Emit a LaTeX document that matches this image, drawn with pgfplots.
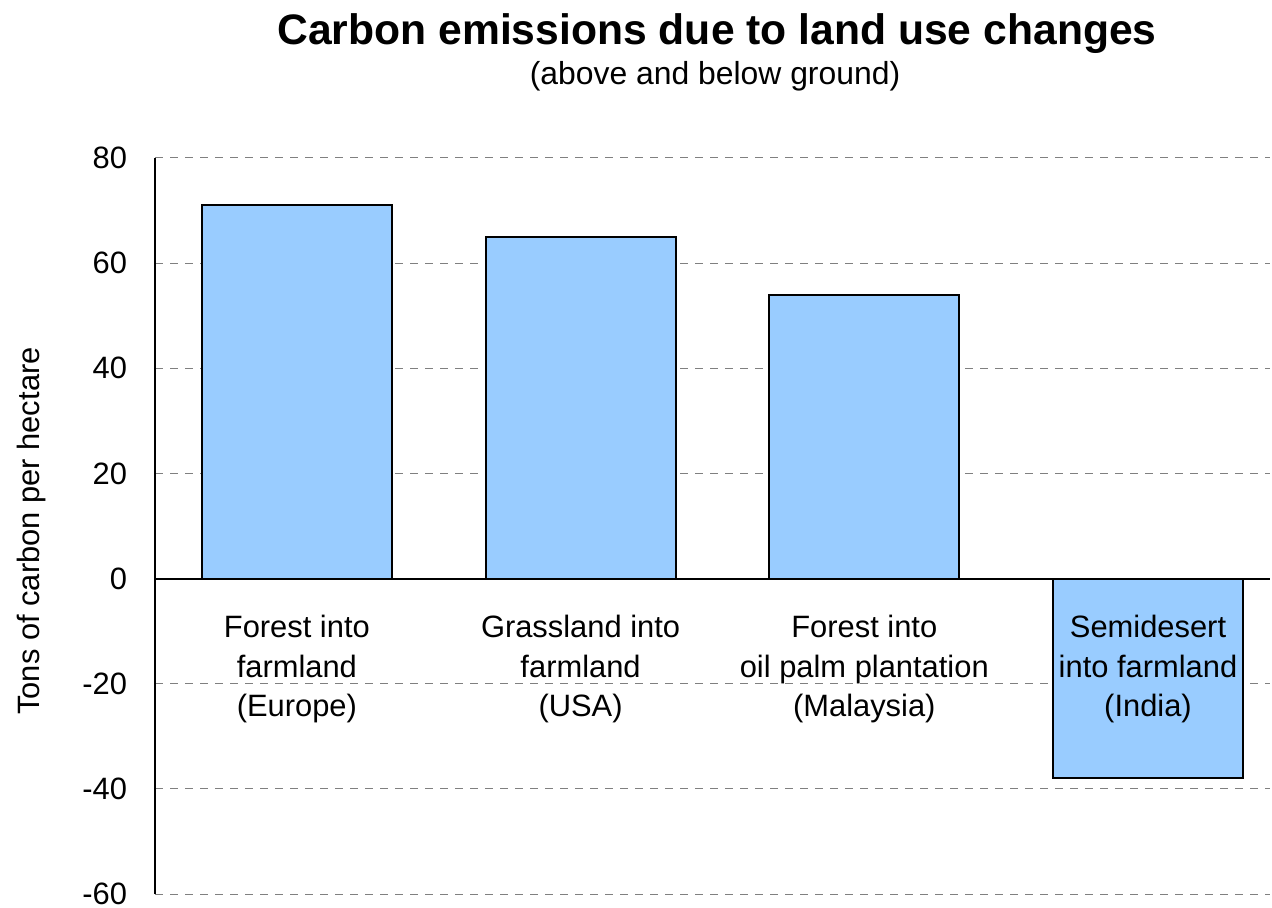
\documentclass[border=0pt]{standalone}
\usepackage{pgfplots}
\pgfplotsset{compat=1.18}
\usepackage{fontspec}
\setmainfont{Liberation Sans}

\definecolor{barblue}{HTML}{99CCFF}
\definecolor{gridgray}{HTML}{808080}

% grid under the bars, tick labels over them (the India label sits inside its bar)
\pgfplotsset{
  layers/bars under labels/.define layer set={
    axis background,axis grid,main,axis ticks,axis lines,
    axis tick labels,axis descriptions,axis foreground
  }{/pgfplots/layers/standard},
}

\begin{document}
\begin{tikzpicture}
\begin{axis}[
  set layers=bars under labels,
  scale only axis, width=557.5bp, height=368bp,
  at={(0,0)}, anchor=south west,
  xmin=-0.5, xmax=3.43,
  ymin=-60, ymax=80,
  ytick={-60,-40,...,80},
  xtick={0,1,2,3},
  xticklabels={{Forest into\\farmland\\(Europe)},
               {Grassland into\\farmland\\(USA)},
               {Forest into\\oil palm plantation\\(Malaysia)},
               {Semidesert\\into farmland\\(India)}},
  axis y line*=left, axis x line*=middle,
  hide obscured x ticks=false, hide obscured y ticks=false,
  major tick length=0pt,
  ymajorgrids,
  grid style={gridgray, line width=0.5bp, dash pattern=on 4bp off 3.5bp},
  axis line style={black, line width=1bp},
  ticklabel style={font=\fontsize{15.5}{19.75}\selectfont},
  xticklabel style={align=center, anchor=north, yshift=-15bp},
  yticklabel style={xshift=-10.5bp},
  /pgf/number format/assume math mode=true,
  ybar, bar width=0.67,
]
\addplot[fill=barblue, draw=black, line width=1bp]
  coordinates {(0,71) (1,65) (2,54) (3,-38)};
\end{axis}

\node[anchor=base, font=\fontsize{21.4}{25}\selectfont\bfseries]
  at (281bp,424.5bp) {Carbon emissions due to land use changes};
\node[anchor=base, font=\fontsize{16}{19}\selectfont]
  at (280bp,404.5bp) {(above and below ground)};
\node[rotate=90, font=\fontsize{15.5}{18}\selectfont]
  at (-61.5bp,181.5bp) {Tons of carbon per hectare};

% 1 px of the reference = 0.5bp, axis box lower left at (0,0)
\pgfresetboundingbox
\useasboundingbox (-77.5bp,-7bp) rectangle (558.5bp,447bp);
\end{tikzpicture}
\end{document}
